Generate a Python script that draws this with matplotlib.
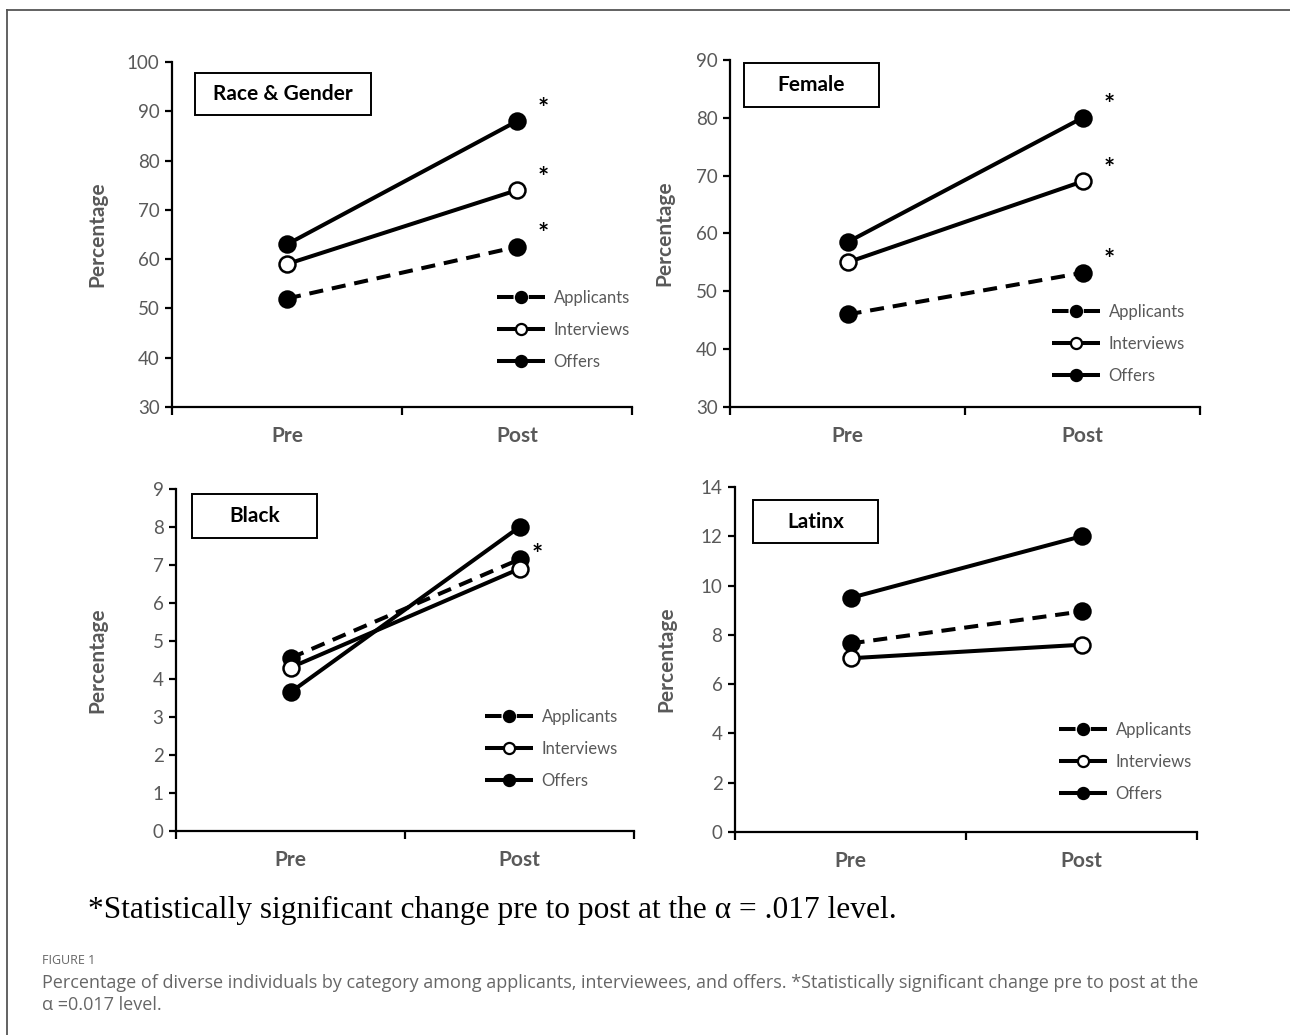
"""
Four-panel pre/post comparison of diverse applicants, interviews and offers.
Saves out.png (1290x1035).
"""

import matplotlib

matplotlib.use("Agg")
import matplotlib.pyplot as plt
from matplotlib.lines import Line2D
from matplotlib.patches import Rectangle

W, H = 1290, 1035

phases = ["Pre", "Post"]
series_names = ["Applicants", "Interviews", "Offers"]

panel_titles = ["Race & Gender", "Female", "Black", "Latinx"]

race_gender = {"Applicants": [52.0, 62.5], "Interviews": [59.0, 74.0], "Offers": [63.0, 88.0]}
female = {"Applicants": [46.0, 53.2], "Interviews": [55.0, 69.0], "Offers": [58.5, 80.0]}
black = {"Applicants": [4.55, 7.15], "Interviews": [4.3, 6.9], "Offers": [3.65, 8.0]}
latinx = {"Applicants": [7.65, 8.95], "Interviews": [7.05, 7.6], "Offers": [9.5, 12.0]}

# which post values carry a significance star
race_gender_sig = ["Applicants", "Interviews", "Offers"]
female_sig = ["Applicants", "Interviews", "Offers"]
black_sig = ["Applicants"]
latinx_sig = []

race_gender_ticks = [30, 40, 50, 60, 70, 80, 90, 100]
female_ticks = [30, 40, 50, 60, 70, 80, 90]
black_ticks = [0, 1, 2, 3, 4, 5, 6, 7, 8, 9]
latinx_ticks = [0, 2, 4, 6, 8, 10, 12, 14]

footnote = "*Statistically significant change pre to post at the \u03b1 = .017 level."
fig_label = "FIGURE 1"
caption = ("Percentage of diverse individuals by category among applicants, interviewees, and offers. "
           "*Statistically significant change pre to post at the\n\u03b1 =0.017 level.")

GRAY = "#595959"
FONT = "Lato"

STYLE = {
    "Applicants": dict(ls=(0, (3.5, 2.2)), mfc="black"),
    "Interviews": dict(ls="-", mfc="white"),
    "Offers": dict(ls="-", mfc="black"),
}


def px_axes(fig, left, right, top, bottom):
    return fig.add_axes([left / W, 1 - bottom / H, (right - left) / W, (bottom - top) / H])


def draw_panel(ax, title, data, sig, ticks, box_px, legend_anchor, star_off, ylabel_x, ax_px):
    xs = [0.5, 1.5]
    for name in series_names:
        st = STYLE[name]
        ax.plot(xs, data[name], color="black", lw=2.9, linestyle=st["ls"],
                marker="o", markersize=11.5, mfc=st["mfc"], mec="black", mew=1.8,
                label=name, solid_capstyle="butt", zorder=3)
    for name in sig:
        ax.annotate("*", (xs[1], data[name][1]), xytext=star_off, textcoords="offset points",
                    ha="center", va="center", fontsize=19, fontweight="bold", family=FONT)

    ax.set_xlim(0, 2)
    ax.set_ylim(ticks[0], ticks[-1])
    ax.set_yticks(ticks)
    ax.set_xticks([0, 1, 2])
    ax.set_xticklabels([])
    for x, lab in zip(xs, phases):
        ax.text(x, -0.085, lab, transform=ax.get_xaxis_transform(), ha="center", va="center",
                fontsize=15, fontweight="bold", color=GRAY, family=FONT)
    for s in ["top", "right"]:
        ax.spines[s].set_visible(False)
    for s in ["left", "bottom"]:
        ax.spines[s].set_linewidth(1.6)
    ax.tick_params(axis="y", direction="out", length=5, width=1.6, labelsize=13.5,
                   labelcolor=GRAY, pad=4)
    ax.tick_params(axis="x", direction="out", length=6, width=1.6)
    for lab in ax.get_yticklabels():
        lab.set_family(FONT)

    l, r, t, b = ax_px
    fx = lambda p: (p - l) / (r - l)
    fy = lambda p: (b - p) / (b - t)

    ax.set_ylabel("Percentage", fontsize=15, fontweight="bold", color=GRAY, family=FONT)
    ax.yaxis.set_label_coords(fx(ylabel_x), 0.5)

    # title box, given in pixel coords of the figure
    bl, br, bt, bb = box_px
    ax.add_patch(Rectangle((fx(bl), fy(bb)), fx(br) - fx(bl), fy(bt) - fy(bb),
                           transform=ax.transAxes, fill=False, lw=1.4, ec="black",
                           clip_on=False, zorder=4))
    ax.text((fx(bl) + fx(br)) / 2, (fy(bt) + fy(bb)) / 2, title, transform=ax.transAxes,
            ha="center", va="center", fontsize=15, fontweight="bold", family=FONT, zorder=5)

    leg = ax.legend(loc="upper left", bbox_to_anchor=(fx(legend_anchor[0]), fy(legend_anchor[1])),
                    frameon=False, handlelength=2.9, handletextpad=0.5, labelspacing=0.95,
                    borderpad=0, borderaxespad=0, prop={"family": FONT, "size": 12})
    for h, name in zip(leg.legend_handles, series_names):
        h.set_markersize(8)
        h.set_markeredgewidth(1.6)
        if name == "Applicants":
            h.set_linestyle((0, (4.1, 3.8)))
    for txt in leg.get_texts():
        txt.set_color(GRAY)


fig = plt.figure(figsize=(W / 100, H / 100), dpi=100)

panels = [
    (race_gender, race_gender_sig, race_gender_ticks, (172, 632, 62, 407), (195, 371, 73, 115),
     (497, 290), (19, 9), 107),
    (female, female_sig, female_ticks, (730, 1200, 60, 407), (744, 879, 63, 107),
     (1052, 304), (19, 9), 674),
    (black, black_sig, black_ticks, (176, 634, 489, 831), (192, 317, 494, 538),
     (485, 709), (13, 3), 107),
    (latinx, latinx_sig, latinx_ticks, (735, 1197, 487, 832), (753, 878, 500, 543),
     (1059, 722), (19, 9), 676),
]

for title, (data, sig, ticks, ax_px, box_px, leg_px, star_off, ylx) in zip(panel_titles, panels):
    ax = px_axes(fig, *ax_px)
    draw_panel(ax, title, data, sig, ticks, box_px, leg_px, star_off, ylx, ax_px)

fig.text(88 / W, 1 - 910 / H, footnote, ha="left", va="center", fontsize=22.6,
         family="Liberation Serif", color="black")
fig.text(42 / W, 1 - 960 / H, fig_label, ha="left", va="center", fontsize=9,
         family="Open Sans", color="#666666")
fig.text(42 / W, 1 - 994 / H, caption, ha="left", va="center", fontsize=13,
         family="Open Sans", color="#666666", linespacing=1.25)

# frame lines at the top and left
fig.add_artist(Line2D([7 / W, 1], [1 - 10 / H, 1 - 10 / H], color="#555555", lw=1.3,
                      transform=fig.transFigure))
fig.add_artist(Line2D([7 / W, 7 / W], [0, 1 - 10 / H], color="#555555", lw=1.3,
                      transform=fig.transFigure))

fig.savefig("out.png", dpi=100)
